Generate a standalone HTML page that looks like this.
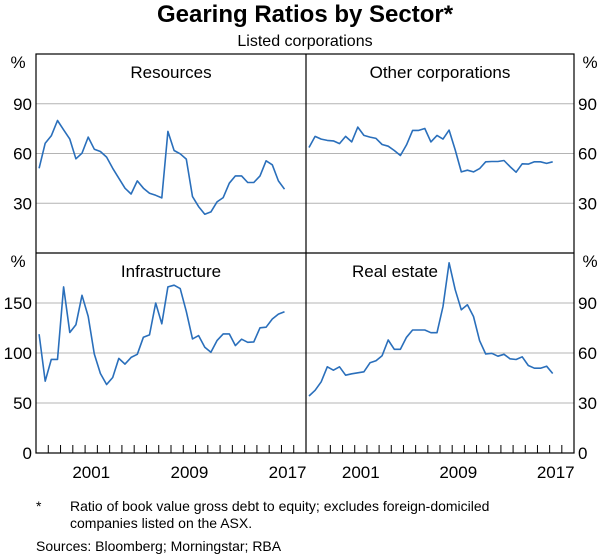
<!DOCTYPE html>
<html><head><meta charset="utf-8"><style>
body{margin:0;background:#fff;font-family:"Liberation Sans",sans-serif;}
svg text{font-family:"Liberation Sans",sans-serif;fill:#000;}
</style></head><body>
<svg id="c" width="600" height="555" viewBox="0 0 600 555">
<text x="305" y="22" font-size="24" font-weight="bold" text-anchor="middle">Gearing Ratios by Sector*</text>
<text x="305" y="46" font-size="16" text-anchor="middle">Listed corporations</text>
<g id="grid"></g>
<g id="lines"></g>
<g id="frame"></g>
<g id="labels"></g>
<text x="36" y="511" font-size="14">*</text>
<text x="70" y="511" font-size="14">Ratio of book value gross debt to equity; excludes foreign-domiciled</text>
<text x="70" y="528" font-size="14">companies listed on the ASX.</text>
<text x="36" y="551" font-size="14">Sources: Bloomberg; Morningstar; RBA</text>
</svg>
<script>
const startYear=1997.25, stepYear=0.5;
const resources=[51.1,66.2,70.7,79.9,74.3,68.7,56.8,60.2,69.9,62.6,61.2,57.8,51.1,45.1,39.1,35.6,43.5,39.1,36.0,34.8,33.2,73.3,61.8,59.8,56.6,34.0,28.0,23.4,24.8,30.8,33.4,42.1,46.5,46.5,42.5,42.5,46.5,55.6,53.2,43.5,38.5];
const otherCorps=[63.6,70.3,68.7,67.9,67.6,66.0,70.3,67.0,75.9,70.9,69.9,69.1,65.4,64.4,61.8,58.8,65.2,73.9,73.9,75.1,67.0,70.9,68.7,74.1,62.2,48.9,49.9,48.9,50.9,55.0,55.2,55.2,55.8,52.1,48.7,53.8,53.6,55.0,55.0,54.0,55.0];
const infrastructure=[118.8,71.8,93.6,93.6,166.1,120.5,128.2,157.7,136.6,99.0,79.5,68.5,75.5,94.6,88.9,95.6,98.7,115.8,118.1,150.0,129.2,166.1,167.8,164.4,141.6,114.1,117.4,105.7,100.7,112.4,119.1,119.1,107.4,113.8,110.7,111.1,125.2,125.8,134.0,138.9,141.3];
const realEstate=[34.2,37.6,42.7,51.7,49.7,51.7,46.7,47.5,48.1,48.7,54.1,55.3,58.4,67.8,62.2,62.2,69.4,73.8,73.8,73.8,72.2,72.2,87.9,114.1,98.0,85.9,88.9,81.9,67.4,59.4,59.8,58.1,59.2,56.5,56.1,57.7,52.5,50.9,50.9,52.1,47.7];
const leftTicks=["90","60","30"], leftTickVals=[90,60,30];
const infraTicks=["150","100","50","0"], infraTickVals=[150,100,50,0];
const reTicks=["90","60","30","0"], reTickVals=[90,60,30,0];
const yearLabels=[2001,2009,2017];
const panelTitles=["Resources","Other corporations","Infrastructure","Real estate"];

const NS="http://www.w3.org/2000/svg";
const L=36,M=306,R=574,T=54,MID=253,B=453,Y0=1997,Y1=2019;
function mk(p,tag,at){const e=document.createElementNS(NS,tag);for(const k in at)e.setAttribute(k,at[k]);p.appendChild(e);return e;}
function xs(px0,px1){return t=>px0+(t-Y0)/(Y1-Y0)*(px1-px0);}
function ys(top,bot,max){return v=>bot-v/max*(bot-top);}
const panels=[
 {x0:L,x1:M,top:T,bot:MID,max:120,data:resources,name:"resources",tx:171},
 {x0:M,x1:R,top:T,bot:MID,max:120,data:otherCorps,name:"other-corporations",tx:440},
 {x0:L,x1:M,top:MID,bot:B,max:200,data:infrastructure,name:"infrastructure",tx:171},
 {x0:M,x1:R,top:MID,bot:B,max:120,data:realEstate,name:"real-estate",tx:395}];
const grid=document.getElementById('grid'),lines=document.getElementById('lines'),frame=document.getElementById('frame'),lab=document.getElementById('labels');
function gl(y){const e=mk(grid,'line',{x1:L,x2:R,y1:y,y2:y,stroke:'#b4b4b4','stroke-width':1});

}
const ty=ys(T,MID,120); leftTickVals.forEach(v=>gl(ty(v)));
const by=ys(MID,B,200); infraTickVals.filter(v=>v>0).forEach(v=>gl(by(v)));
panels.forEach((p,i)=>{
 const X=xs(p.x0,p.x1),Y=ys(p.top,p.bot,p.max);
 const d=p.data.map((v,j)=>(j?'L':'M')+X(startYear+j*stepYear).toFixed(1)+','+Y(v).toFixed(1)).join('');
 const e=mk(lines,'path',{d:d,fill:'none',stroke:'#2a6fbb','stroke-width':1.6,'stroke-linejoin':'round'});
 
 
 const t=mk(lab,'text',{x:p.tx,y:p.top+24,'font-size':17,'text-anchor':'middle'});t.textContent=panelTitles[i];
 
 
});
const f=mk(frame,'rect',{x:L,y:T,width:R-L,height:B-T,fill:'none',stroke:'#000','stroke-width':1.2});


mk(frame,'line',{x1:M,x2:M,y1:T,y2:B,stroke:'#000','stroke-width':1.2});
mk(frame,'line',{x1:L,x2:R,y1:MID,y2:MID,stroke:'#000','stroke-width':1.2});
[[L,M],[M,R]].forEach(([a,b])=>{const X=xs(a,b);for(let y=Y0+1;y<Y1;y++){const e=mk(frame,'line',{x1:X(y),x2:X(y),y1:B,y2:B-8,stroke:'#000','stroke-width':1});

}
 yearLabels.forEach(y=>{const t=mk(lab,'text',{x:X(y+0.5),y:B+25,'font-size':17,'text-anchor':'middle'});t.textContent=y;
 
 });});
function yl(x,y,s,anc){const t=mk(lab,'text',{x:x,y:y+6,'font-size':17,'text-anchor':anc});t.textContent=s;

}
leftTickVals.forEach((v,i)=>{yl(32,ty(v),leftTicks[i],'end');yl(578,ty(v),leftTicks[i],'start');});
infraTickVals.forEach((v,i)=>yl(32,by(v),infraTicks[i],'end'));
const ry=ys(MID,B,120);reTickVals.forEach((v,i)=>yl(578,ry(v),reTicks[i],'start'));
[[18,T+14],[18,MID+14]].forEach(([x,y])=>yl(x,y-6,'%','middle'));
[[590,T+14],[590,MID+14]].forEach(([x,y])=>yl(x,y-6,'%','middle'));
</script>
</body></html>
